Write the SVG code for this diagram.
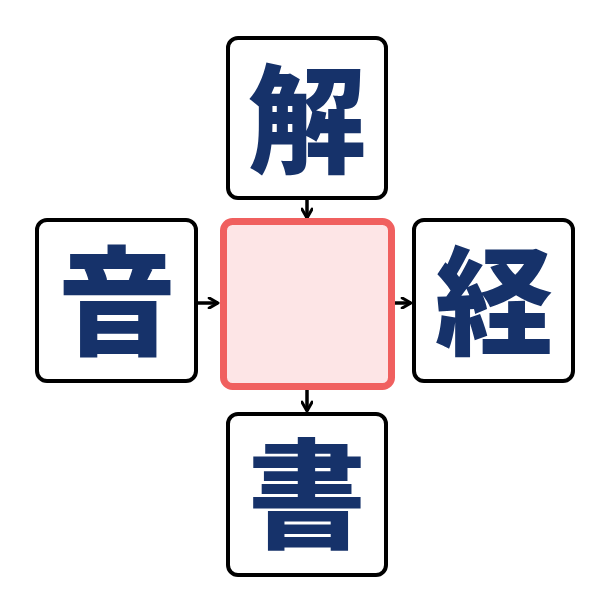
<svg xmlns="http://www.w3.org/2000/svg" width="612" height="614" viewBox="0 0 612 614">
<defs>
<style>
.box{fill:#ffffff;stroke:#000000;stroke-width:4}
.kanji{font-family:"Noto Sans CJK JP","Noto Sans CJK SC",sans-serif;font-weight:900;font-size:118px;fill:#16326a;text-anchor:middle}
.conn{stroke:#000000;stroke-width:3.5;fill:none}
</style>
<marker id="arr" viewBox="0 0 10 10" refX="8.5" refY="5" markerWidth="3.6" markerHeight="3.6" orient="auto" markerUnits="strokeWidth">
<path d="M1.5,1 L8.5,5 L1.5,9" fill="none" stroke="#000" stroke-width="2.4" stroke-linecap="round" stroke-linejoin="round"/>
</marker>
</defs>
<rect width="612" height="614" fill="#ffffff"/>
<g id="connectors">
<line class="conn" x1="307" y1="200" x2="307" y2="218" marker-end="url(#arr)"/>
<line class="conn" x1="198" y1="303" x2="218" y2="303" marker-end="url(#arr)"/>
<line class="conn" x1="395" y1="303" x2="411" y2="303" marker-end="url(#arr)"/>
<line class="conn" x1="307" y1="390" x2="307" y2="411" marker-end="url(#arr)"/>
</g>
<g id="center">
<rect x="223.5" y="221.5" width="168" height="165" rx="9" fill="#fde5e6" stroke="#f0605f" stroke-width="7"/>
</g>
<g id="top">
<rect class="box" x="228" y="38" width="158" height="160" rx="10"/>
<text class="kanji" x="307" y="164">解</text>
</g>
<g id="left">
<rect class="box" x="37" y="220" width="159" height="161" rx="10"/>
<text class="kanji" x="117" y="346">音</text>
</g>
<g id="right">
<rect class="box" x="414" y="220" width="159" height="161" rx="10"/>
<text class="kanji" x="494" y="346">経</text>
</g>
<g id="bottom">
<rect class="box" x="228" y="414" width="158" height="161" rx="10"/>
<text class="kanji" x="307" y="539">書</text>
</g>
</svg>
